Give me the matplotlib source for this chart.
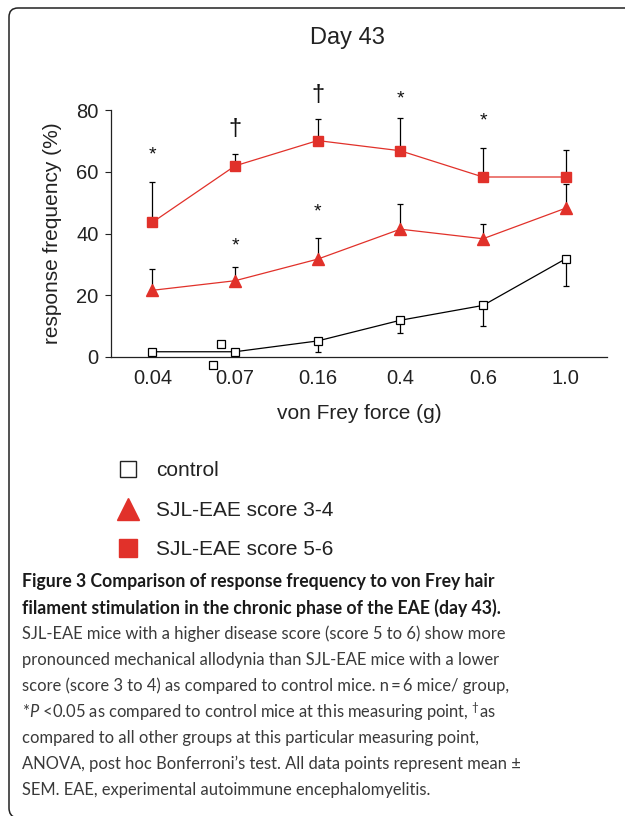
import matplotlib
matplotlib.use("Agg")
import matplotlib.pyplot as plt
from matplotlib.lines import Line2D
from matplotlib.patches import PathPatch
from matplotlib.path import Path
from matplotlib.transforms import IdentityTransform
import numpy as np

# Data (response frequency, %)
forces = ["0.04", "0.07", "0.16", "0.4", "0.6", "1.0"]
control = [1.7, 1.7, 5.2, 11.9, 16.7, 31.8]
control_sem = [0, 0, 3.6, 4.1, 6.8, 8.8]
eae_34 = [21.6, 24.7, 31.7, 41.4, 38.3, 48.2]
eae_34_sem = [6.9, 4.4, 6.9, 8.3, 4.7, 7.8]
eae_56 = [43.6, 61.9, 70.1, 66.8, 58.3, 58.3]
eae_56_sem = [13.1, 3.7, 7.1, 10.7, 9.5, 8.7]

# stray open squares near 0.07 in the original
stray_x = [0.83, 0.73]
stray_y = [4.3, -2.5]

# significance marks
sig_x = [0, 1, 1, 2, 2, 3, 4]
sig_y = [65.4, 74.0, 35.8, 84.9, 46.9, 83.5, 76.6]
sig_mark = ["*", "†", "*", "†", "*", "*", "*"]

caption_bold = [
    "Figure 3 Comparison of response frequency to von Frey hair",
    "filament stimulation in the chronic phase of the EAE (day 43).",
]
caption_body = [
    "SJL-EAE mice with a higher disease score (score 5 to 6) show more",
    "pronounced mechanical allodynia than SJL-EAE mice with a lower",
    "score (score 3 to 4) as compared to control mice. n\u2009=\u20096 mice/ group,",
    r"*$\mathit{P}$ <0.05 as compared to control mice at this measuring point, $^{†}$as",
    "compared to all other groups at this particular measuring point,",
    "ANOVA, post hoc Bonferroni’s test. All data points represent mean ±",
    "SEM. EAE, experimental autoimmune encephalomyelitis.",
]

red = "#e1312a"
W, H = 625, 816

plt.rcParams["font.family"] = ["Liberation Sans", "DejaVu Sans"]
plt.rcParams["mathtext.fontset"] = "custom"
plt.rcParams["mathtext.rm"] = "Lato"
plt.rcParams["mathtext.it"] = "Lato:italic"

fig = plt.figure(figsize=(W / 100, H / 100), dpi=100)

# rounded frame in pixels: top edge, top-left corner, left edge, bottom-left corner
verts = [(W + 10, H - 8), (18, H - 8), (9, H - 8), (9, H - 17),
         (9, 8), (9, 0), (16, -2)]
codes = [Path.MOVETO, Path.LINETO, Path.CURVE3, Path.CURVE3,
         Path.LINETO, Path.CURVE3, Path.CURVE3]
fig.patches.append(PathPatch(Path(verts, codes), transform=IdentityTransform(),
                             fill=False, edgecolor="#222222", lw=1.1))

ax = fig.add_axes([111 / W, 1 - 357 / H, 496 / W, 247 / H])
x = np.arange(len(forces))

# control
ax.errorbar(x, control, yerr=[control_sem, np.zeros(len(x))], fmt="none",
            ecolor="black", elinewidth=0.9, capsize=2.2, capthick=0.9, zorder=2)
ax.plot(x, control, color="black", lw=0.9, marker="s", ms=6.2,
        mfc="white", mec="black", mew=0.9, zorder=3)
ax.plot(stray_x, stray_y, ls="none", marker="s", ms=6.2,
        mfc="white", mec="black", mew=0.9, clip_on=False, zorder=3)

# SJL-EAE score 3-4
ax.errorbar(x, eae_34, yerr=[np.zeros(len(x)), eae_34_sem], fmt="none",
            ecolor="black", elinewidth=0.9, capsize=2.2, capthick=0.9, zorder=2)
ax.plot(x, eae_34, color=red, lw=0.9, marker="^", ms=8.5,
        mfc=red, mec=red, zorder=3)

# SJL-EAE score 5-6
ax.errorbar(x, eae_56, yerr=[np.zeros(len(x)), eae_56_sem], fmt="none",
            ecolor="black", elinewidth=0.9, capsize=2.2, capthick=0.9, zorder=2)
ax.plot(x, eae_56, color=red, lw=0.9, marker="s", ms=7,
        mfc=red, mec=red, zorder=3)

for sx, sy, m in zip(sig_x, sig_y, sig_mark):
    ax.text(sx, sy, m, ha="center", va="center",
            fontsize=14 if m == "*" else 17, color="#111111", clip_on=False)

ax.set_xlim(-0.5, 5.5)
ax.set_ylim(0, 80)
ax.set_xticks(x)
ax.set_xticklabels(forces)
ax.set_yticks([0, 20, 40, 60, 80])
ax.tick_params(axis="x", length=0, pad=9, labelsize=14.5, colors="#222222")
ax.tick_params(axis="y", length=4, width=0.8, pad=5, labelsize=14.5,
               colors="#222222")
for s in ["top", "right"]:
    ax.spines[s].set_visible(False)
for s in ["left", "bottom"]:
    ax.spines[s].set_color("#222222")
    ax.spines[s].set_linewidth(0.9)
ax.patch.set_alpha(0)

ax.set_ylabel("response frequency (%)", fontsize=15, color="#222222", labelpad=10)
ax.set_xlabel("von Frey force (g)", fontsize=15, color="#222222", labelpad=11)
fig.text(347 / W, 1 - 38 / H, "Day 43", ha="center", va="center",
         fontsize=17, color="#222222")

handles = [
    Line2D([], [], ls="none", marker="s", ms=11, mfc="white", mec="#222222", mew=1),
    Line2D([], [], ls="none", marker="^", ms=16, mfc=red, mec=red),
    Line2D([], [], ls="none", marker="s", ms=13.5, mfc=red, mec=red),
]
labels = ["control", "SJL-EAE score 3-4", "SJL-EAE score 5-6"]
fig.legend(handles, labels, loc="upper left", bbox_to_anchor=(105 / W, 1 - 451 / H),
           frameon=False, fontsize=15, handlelength=1.2, handletextpad=0.75,
           labelspacing=0.98, borderpad=0, labelcolor="#222222")

# caption
y0 = 582
for i, line in enumerate(caption_bold):
    fig.text(22 / W, 1 - (y0 + 26 * i) / H, line, ha="left", va="center",
             fontsize=12.7, fontweight="bold", family="Lato", color="#1a1a1a")
for i, line in enumerate(caption_body):
    fig.text(22 / W, 1 - (y0 + 26 * (i + 2)) / H, line, ha="left", va="center",
             fontsize=11.9, family="Lato", color="#3a3a3a")

fig.savefig("out.png", dpi=100)
